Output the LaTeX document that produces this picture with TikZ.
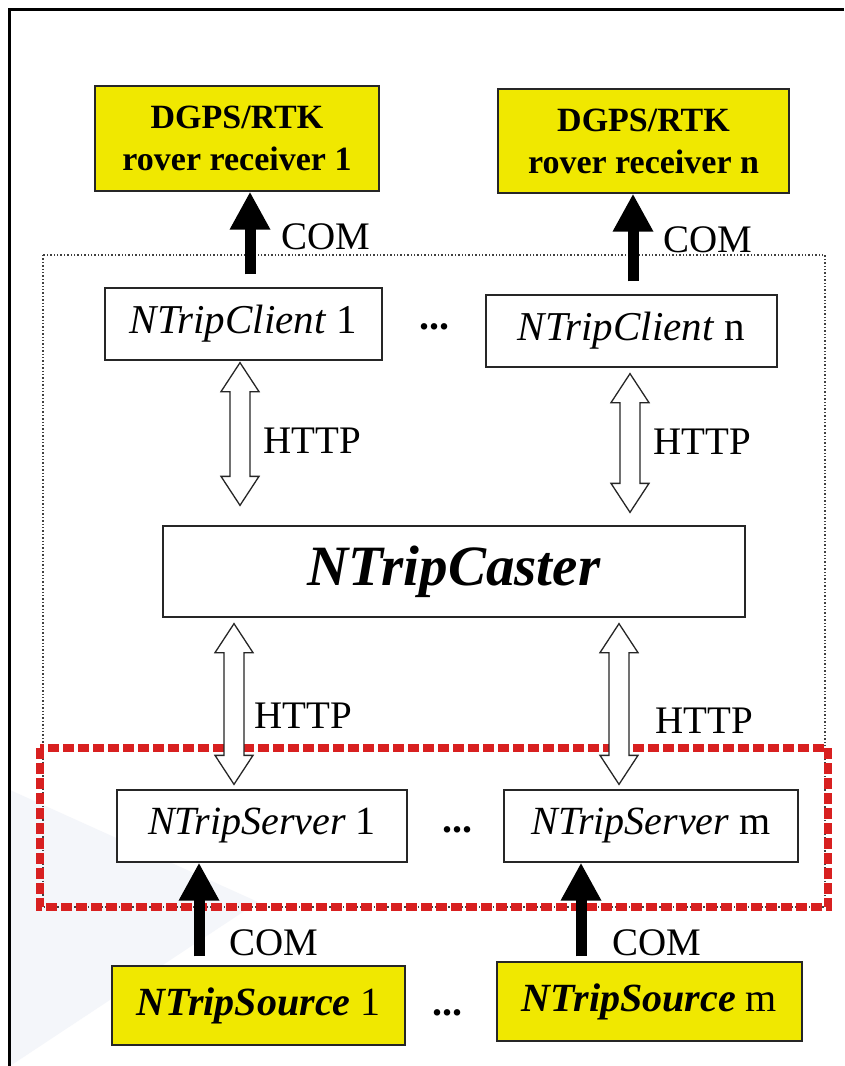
\documentclass[tikz,border=0pt]{standalone}
\usepackage{fontspec}
\setmainfont{Liberation Serif}
\usetikzlibrary{arrows.meta,calc}

\definecolor{boxyellow}{RGB}{240,232,0}
\definecolor{dashred}{RGB}{216,32,32}
\definecolor{haze}{RGB}{244,246,250}

\tikzset{
  box/.style={draw=black!85, line width=1.3pt, inner sep=0pt, align=center},
  plainbox/.style={box, fill=white},
  yellowbox/.style={box, fill=boxyellow},
  lbl/.style={inner sep=0pt, font=\fontsize{39}{44}\selectfont},
  dots/.style={inner sep=0pt, font=\fontsize{40}{44}\selectfont\bfseries},
  comarrow/.style={line width=11pt, -{Triangle[width=38pt,length=38pt]}},
  hdbl/.style={draw=black!85, fill=white, line width=1.3pt, line join=miter,
    to path={let \p1=(\tikztostart), \p2=(\tikztotarget) in
      (\x1,\y1) -- (\x1+19pt,\y1-29pt) -- (\x1+10pt,\y1-29pt)
      -- (\x1+10pt,\y2+29pt) -- (\x1+19pt,\y2+29pt) -- (\x1,\y2)
      -- (\x1-19pt,\y2+29pt) -- (\x1-10pt,\y2+29pt)
      -- (\x1-10pt,\y1-29pt) -- (\x1-19pt,\y1-29pt) -- cycle}},
}

\begin{document}
\begin{tikzpicture}[x=1pt, y=-1pt]
  \useasboundingbox (0,0) rectangle (844,1066);
  \fill[white] (0,0) rectangle (844,1066);

  % faint background wedge at the lower left
  \fill[haze] (10,790) -- (258,902) -- (10,1066) -- cycle;

  % outer frame (top and left edges)
  \draw[line width=3pt] (9,1066) -- (9,9) -- (844,9);

  % dotted system boundary and red server group
  \draw[dotted, line width=1.4pt, black!75] (43,255) rectangle (825,907);
  \draw[dashred, line width=8pt, dash pattern=on 11pt off 4pt] (40,748) rectangle (828,907);

  % rover receivers
  \node[yellowbox, minimum width=284pt, minimum height=105pt,
        font=\fontsize{34}{42}\selectfont\bfseries] (r1) at (237,138.5)
        {DGPS/RTK\\rover receiver 1};
  \node[yellowbox, minimum width=291pt, minimum height=104pt,
        font=\fontsize{34}{42}\selectfont\bfseries] (rn) at (643.5,141)
        {DGPS/RTK\\rover receiver n};

  % clients
  \node[plainbox, minimum width=277pt, minimum height=72pt,
        font=\fontsize{41}{44}\selectfont] (c1) at (243.5,324)
        {\textit{NTripClient} 1};
  \node[plainbox, minimum width=291pt, minimum height=72pt,
        font=\fontsize{41}{44}\selectfont] (cn) at (631.5,331)
        {\textit{NTripClient} n};
  \node[dots] (dc) at (434,327) {...};

  % caster
  \node[plainbox, minimum width=582pt, minimum height=91pt,
        font=\fontsize{57}{60}\selectfont\bfseries\itshape] (caster) at (454,571.5)
        {NTripCaster};

  % servers
  \node[plainbox, minimum width=290pt, minimum height=72pt,
        font=\fontsize{40}{44}\selectfont] (s1) at (262,826)
        {\textit{NTripServer} 1};
  \node[plainbox, minimum width=294pt, minimum height=72pt,
        font=\fontsize{40}{44}\selectfont] (sm) at (651,826)
        {\textit{NTripServer} m};
  \node[dots] (ds) at (457,830) {...};

  % sources
  \node[yellowbox, minimum width=293pt, minimum height=79pt,
        font=\fontsize{40}{44}\selectfont] (src1) at (258.5,1005.5)
        {\textbf{\textit{NTripSource}} 1};
  \node[yellowbox, minimum width=305pt, minimum height=79pt,
        font=\fontsize{40}{44}\selectfont] (srcm) at (649.5,1001.5)
        {\textbf{\textit{NTripSource}} m};
  \node[dots] (dsrc) at (447,1013) {...};

  % serial links (COM)
  \coordinate (k1) at ($(c1.north)+(6.5,-13)$);
  \coordinate (kn) at ($(cn.north)+(1.5,-13)$);
  \coordinate (q1) at ($(src1.north)+(-59.5,-9)$);
  \coordinate (qm) at ($(srcm.north)+(-68.5,-5)$);
  \draw[comarrow] (k1) -- (k1 |- r1.south);
  \draw[comarrow] (kn) -- (kn |- rn.south);
  \draw[comarrow] (q1) -- (q1 |- s1.south);
  \draw[comarrow] (qm) -- (qm |- sm.south);

  % HTTP links
  \coordinate (h1) at ($(c1.south)+(-3.5,2)$);
  \coordinate (hn) at ($(cn.south)+(-1.5,6)$);
  \coordinate (g1) at ($(caster.south)+(-220,6)$);
  \coordinate (gm) at ($(caster.south)+(165,6)$);
  \draw[hdbl] (h1) to ($(h1 |- caster.north)+(0,-20)$);
  \draw[hdbl] (hn) to ($(hn |- caster.north)+(0,-13)$);
  \draw[hdbl] (g1) to ($(g1 |- s1.north)+(0,-5)$);
  \draw[hdbl] (gm) to ($(gm |- sm.north)+(0,-5)$);

  % link labels
  \node[lbl] (com1) at (326,237) {COM};
  \node[lbl] (comn) at (708,240) {COM};
  \node[lbl] (http1) at (312,441) {HTTP};
  \node[lbl] (httpn) at (702,442) {HTTP};
  \node[lbl] (http3) at (303,716) {HTTP};
  \node[lbl] (http4) at (704,721) {HTTP};
  \node[lbl] (com3) at (274,943) {COM};
  \node[lbl] (com4) at (657,943) {COM};
\end{tikzpicture}
\end{document}
